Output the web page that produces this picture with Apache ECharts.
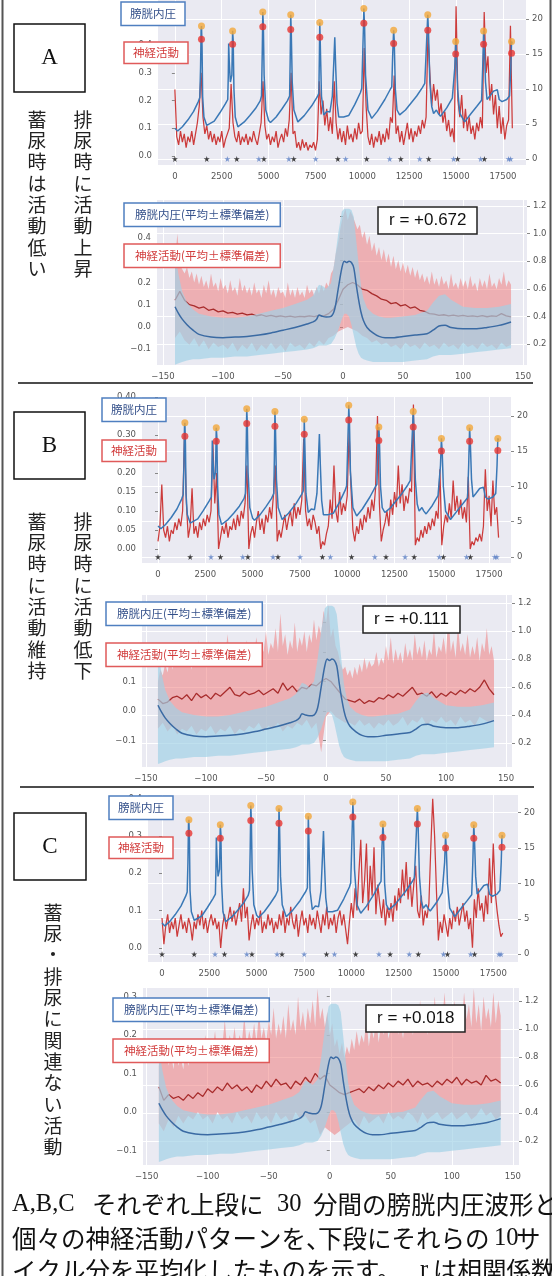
<!DOCTYPE html>
<html><head><meta charset="utf-8">
<script src="https://cdn.jsdelivr.net/npm/echarts@6/dist/echarts.min.js"></script>
<style>html,body{margin:0;padding:0;background:#fff}#c{width:552px;height:1276px}</style>
</head><body><div id="c"></div>
<script>
// ===== 30-min traces (top panels) =====
// bladder pressure (shared by A, B, C) : sample index, value
const pressT = [0,150,400,700,1000,1250,1330,1370,1400,1420,
 1450,1480,1550,1700,1800,2100,2400,2700,2820,2850,
 2870,2900,2960,3000,3040,3080,3110,3150,3220,3360,
 3700,4000,4300,4550,4620,4660,4690,4720,4760,4850,
 5000,5100,5400,5700,6000,6120,6150,6180,6210,6260,
 6350,6560,6900,7300,7600,7680,7710,7730,7760,7820,
 7940,8100,8270,8400,8480,8530,8580,8650,8740,9000,
 9270,9600,9900,9970,10020,10080,10120,10170,10300,10500,
 10800,11200,11500,11570,11620,11670,11700,11760,11850,11990,
 12300,12600,12900,13200,13330,13400,13490,13530,13600,13700,
 13800,13950,14050,14170,14500,14800,14870,14930,14980,15020,
 15080,15200,15460,15800,16100,16360,16420,16470,16510,16570,
 16650,16800,17000,17200,17300,17450,17700,17850,17920,17960,
 18000];
const pressV = [4.4,4.0,4.6,5.6,6.8,8.2,8.8,13,18.5,19.0,
 16,9,6,4.8,4.6,5.4,6.6,7.9,8.5,12,
 16.5,14,11,10.8,12,18.3,17,10,6,4.6,
 5.3,6.2,7.2,8.3,9,15,21.0,19,12,7,
 5.5,5.2,6,7.1,8.3,9,14,20.6,18,11,
 7,5.3,6.2,7.6,8.9,9.4,15,19.5,16,9,
 6.3,6.8,6.7,9,14,17.4,13,8,6.0,6.0,
 6.2,7.8,9.5,10.1,15,21.5,19,12,7,5.8,
 6.8,8.5,10,10.3,15,18.4,17,10,7,6.3,
 7,8,9,10.2,10.8,15,20.6,18,11,7.5,
 6.5,7,6.5,6.1,7.3,8.7,8.9,13,16.8,15,
 10,6.5,5.3,6.5,7.5,8.4,13,18.3,16,11,
 8.5,9,9.7,9.9,8.5,8.2,8.5,9,13,16.8,
 16.5];
const peakT      = [1420,3080,4690,6180,7730,10080,11670,13490,14980,16470,17960];
const peakOrange = [19.0,18.3,21.0,20.6,19.5,21.5,18.4,20.6,16.8,18.3,16.8];
const peakRed    = [17.1,16.4,18.9,18.5,17.4,19.4,16.5,18.4,15.0,16.4,15.1];
const starBlackT = [0,1700,3300,4750,6340,8690,10230,12050,13540,15080,16510];
const starBlueT  = [2800,4480,6080,7510,9110,11460,13060,14870,16310,17800,17910];

// nerve activity, one value every 100 samples (t = 0 .. 18000)
const NERVE_STEP = 100;
const nerveA = [0.24,0.07,0.04,0.09,0.05,0.08,0.03,0.07,0.05,0.09,
 0.04,0.08,0.12,0.18,0.30,0.14,0.08,0.11,0.06,0.09,
 0.05,0.08,0.04,0.07,0.05,0.09,0.03,0.06,0.08,0.10,
 0.26,0.12,0.07,0.05,0.09,0.04,0.07,0.05,0.08,0.04,
 0.07,0.05,0.09,0.06,0.04,0.08,0.12,0.27,0.11,0.06,
 0.08,0.04,0.07,0.05,0.09,0.03,0.06,0.08,0.05,0.10,
 0.07,0.13,0.30,0.08,0.09,0.03,0.05,0.02,0.06,0.03,
 0.05,0.02,0.04,0.03,0.05,0.02,0.06,0.27,0.15,0.20,
 0.11,0.17,0.09,0.14,0.08,0.27,0.12,0.06,0.10,0.05,
 0.09,0.04,0.11,0.06,0.08,0.05,0.10,0.06,0.12,0.08,
 0.09,0.39,0.18,0.07,0.04,0.08,0.03,0.07,0.05,0.09,
 0.04,0.08,0.05,0.10,0.06,0.14,0.12,0.29,0.08,0.11,
 0.05,0.09,0.04,0.08,0.12,0.06,0.10,0.05,0.09,0.07,
 0.11,0.08,0.13,0.10,0.14,0.44,0.30,0.18,0.26,0.20,
 0.24,0.15,0.19,0.12,0.16,0.09,0.13,0.07,0.10,0.05,
 0.54,0.20,0.14,0.22,0.10,0.17,0.09,0.14,0.08,0.11,
 0.06,0.12,0.09,0.14,0.10,0.52,0.30,0.36,0.20,0.26,
 0.15,0.22,0.10,0.18,0.08,0.14,0.06,0.11,0.13,0.47,
 0.10];
const nerveB = [0.02,0.06,0.17,0.05,0.03,0.06,0.02,0.05,0.04,0.07,
 0.05,0.08,0.06,0.10,0.30,0.12,0.03,0.06,0.16,0.04,
 0.06,0.03,0.07,0.05,0.08,0.06,0.09,0.07,0.10,0.28,
 0.12,0.20,0.00,0.03,0.06,0.04,0.07,0.03,0.06,0.05,
 0.08,0.05,0.09,0.06,0.10,0.08,0.12,0.22,0.00,0.04,
 0.06,0.03,0.07,0.10,0.05,0.08,0.04,0.09,0.07,0.11,
 0.08,0.14,0.22,0.02,0.05,0.03,0.06,0.09,0.05,0.08,
 0.10,0.06,0.12,0.08,0.11,0.09,0.13,0.29,0.10,0.06,
 0.08,0.05,0.09,0.07,0.04,0.06,0.00,0.02,0.01,0.04,
 0.06,0.13,0.08,0.22,0.10,0.07,0.15,0.09,0.12,0.10,
 0.14,0.31,0.16,0.05,0.02,0.06,0.04,0.08,0.05,0.09,
 0.07,0.11,0.08,0.13,0.10,0.16,0.35,0.12,0.02,0.05,
 0.07,0.10,0.06,0.13,0.09,0.15,0.11,0.22,0.12,0.17,
 0.10,0.14,0.12,0.16,0.15,0.38,0.01,0.03,0.02,0.05,
 0.03,0.06,0.04,0.07,0.05,0.08,0.06,0.10,0.08,0.21,
 0.01,0.06,0.09,0.07,0.12,0.08,0.18,0.10,0.14,0.09,
 0.13,0.08,0.11,0.07,0.19,0.00,0.02,0.01,0.03,0.02,
 0.04,0.02,0.06,0.21,0.10,0.14,0.06,0.18,0.09,0.11,
 0.03];
const nerveC = [0.08,0.01,0.06,0.09,0.04,0.07,0.05,0.08,0.03,0.06,
 0.09,0.05,0.07,0.04,0.08,0.06,0.02,0.07,0.05,0.09,
 0.06,0.10,0.05,0.08,0.04,0.07,0.09,0.06,0.08,0.05,
 0.07,0.00,0.06,0.09,0.05,0.08,0.11,0.07,0.10,0.06,
 0.09,0.12,0.07,0.16,0.08,0.11,0.02,0.06,0.09,0.05,
 0.08,0.06,0.10,0.04,0.07,0.05,0.09,0.06,0.08,0.04,
 0.07,0.05,0.09,0.06,0.10,0.04,0.08,0.06,0.11,0.07,
 0.05,0.09,0.03,0.07,0.10,0.06,0.08,0.04,0.09,0.06,
 0.08,0.05,0.10,0.07,0.04,0.09,0.06,0.11,0.05,0.08,
 0.06,0.09,0.04,0.08,0.10,0.06,0.09,0.05,0.01,0.07,
 0.12,0.08,0.16,0.10,0.20,0.29,0.12,0.18,0.28,0.10,
 0.22,0.14,0.27,0.09,0.17,0.12,0.08,0.13,0.06,0.11,
 0.08,0.12,0.07,0.14,0.10,0.16,0.12,0.21,0.14,0.23,
 0.13,0.19,0.11,0.17,0.22,0.10,0.08,0.14,0.06,0.10,
 0.08,0.12,0.27,0.40,0.30,0.15,0.02,0.07,0.04,0.09,
 0.06,0.03,0.08,0.05,0.10,0.07,0.11,0.06,0.09,0.12,
 0.07,0.10,0.05,0.08,0.00,0.13,0.08,0.16,0.10,0.12,
 0.07,0.14,0.09,0.24,0.12,0.28,0.15,0.10,0.06,0.03,
 0.04];

// ===== 10-cycle averages (bottom panels) =====
const avgPressX  = [-140,-137,-134,-130,-125,-120,-110,-100,-90,-80,
 -70,-60,-50,-40,-30,-25,-22,-20,-17,-14,
 -10,-7,-4,-1,1,3,5,7,9,11,
 13,15,17,20,25,30,35,40,50,60,
 70,75,80,85,90,100,110,120,130,140];
const avgPressMean = [0.47,0.42,0.38,0.34,0.30,0.27,0.25,0.245,0.25,0.255,
 0.265,0.28,0.30,0.32,0.345,0.36,0.38,0.41,0.40,0.395,
 0.40,0.45,0.60,0.75,0.80,0.79,0.80,0.79,0.75,0.63,
 0.52,0.43,0.37,0.32,0.28,0.255,0.245,0.245,0.255,0.265,
 0.275,0.30,0.33,0.335,0.32,0.31,0.31,0.32,0.335,0.36];
const avgPressLo = [0.05,0.06,0.07,0.08,0.09,0.09,0.10,0.10,0.11,0.11,
 0.12,0.13,0.14,0.15,0.16,0.17,0.18,0.19,0.19,0.19,
 0.20,0.24,0.30,0.38,0.42,0.42,0.40,0.34,0.26,0.18,
 0.13,0.10,0.09,0.08,0.07,0.07,0.07,0.07,0.07,0.08,
 0.09,0.11,0.12,0.12,0.12,0.13,0.14,0.15,0.16,0.17];
const avgPressHi = [0.85,0.70,0.58,0.50,0.45,0.42,0.40,0.39,0.39,0.40,
 0.42,0.44,0.46,0.49,0.52,0.55,0.60,0.63,0.62,0.60,
 0.64,0.80,1.00,1.16,1.18,1.18,1.18,1.17,1.12,0.95,
 0.78,0.62,0.53,0.46,0.42,0.40,0.39,0.39,0.40,0.41,
 0.44,0.50,0.55,0.56,0.52,0.47,0.46,0.46,0.47,0.49];

// nerve averages: mean & lower every 4 s (-140..140), upper every 2 s (-140..140)
const avgNerveMeanA = [0.12,0.16,0.12,0.10,0.095,0.085,0.09,0.075,0.08,0.068,
 0.072,0.062,0.066,0.058,0.062,0.054,0.058,0.05,0.055,0.048,
 0.052,0.046,0.05,0.045,0.049,0.044,0.048,0.046,0.05,0.047,
 0.052,0.05,0.06,0.08,0.12,0.17,0.19,0.2,0.19,0.17,
 0.165,0.15,0.14,0.125,0.12,0.105,0.11,0.095,0.1,0.085,
 0.09,0.075,0.07,0.06,0.058,0.052,0.055,0.05,0.053,0.049,
 0.052,0.048,0.05,0.047,0.051,0.046,0.05,0.048,0.06,0.05,
 0.045];
const avgNerveHiA = [0.30,0.42,0.28,0.26,0.24,0.27,0.22,0.25,0.20,0.24,
 0.19,0.23,0.18,0.21,0.17,0.24,0.18,0.20,0.16,0.22,
 0.17,0.19,0.15,0.21,0.16,0.18,0.14,0.22,0.16,0.19,
 0.15,0.18,0.14,0.20,0.15,0.17,0.13,0.19,0.15,0.21,
 0.14,0.17,0.13,0.18,0.15,0.16,0.13,0.20,0.14,0.17,
 0.13,0.18,0.14,0.16,0.13,0.19,0.15,0.17,0.14,0.18,
 0.15,0.19,0.16,0.20,0.18,0.24,0.26,0.33,0.38,0.45,
 0.50,0.53,0.48,0.52,0.50,0.47,0.44,0.46,0.40,0.43,
 0.37,0.41,0.34,0.38,0.32,0.36,0.30,0.35,0.29,0.33,
 0.27,0.32,0.26,0.30,0.25,0.29,0.24,0.28,0.23,0.27,
 0.22,0.26,0.21,0.24,0.20,0.23,0.19,0.25,0.19,0.22,
 0.18,0.23,0.19,0.21,0.17,0.24,0.18,0.20,0.17,0.22,
 0.18,0.21,0.17,0.23,0.18,0.20,0.16,0.22,0.18,0.21,
 0.17,0.24,0.18,0.20,0.17,0.22,0.19,0.25,0.18,0.21,
 0.19];
const avgNerveLoA = [-0.05,-0.02,-0.06,-0.08,-0.05,-0.09,-0.06,-0.10,-0.07,-0.09,
 -0.08,-0.10,-0.07,-0.11,-0.08,-0.10,-0.07,-0.11,-0.08,-0.10,
 -0.07,-0.10,-0.08,-0.11,-0.07,-0.09,-0.08,-0.10,-0.07,-0.09,
 -0.06,-0.08,-0.05,-0.04,-0.02,-0.01,0.00,-0.01,-0.02,-0.04,
 -0.05,-0.07,-0.06,-0.08,-0.07,-0.09,-0.08,-0.10,-0.07,-0.09,
 -0.08,-0.10,-0.07,-0.09,-0.08,-0.10,-0.07,-0.09,-0.08,-0.10,
 -0.07,-0.09,-0.08,-0.10,-0.07,-0.09,-0.08,-0.10,-0.07,-0.09,
 -0.08];

const avgNerveMeanB = [0.04,0.025,0.03,0.045,0.05,0.04,0.055,0.035,0.06,0.045,
 0.055,0.04,0.06,0.05,0.065,0.08,0.055,0.05,0.065,0.055,
 0.06,0.07,0.055,0.065,0.075,0.06,0.095,0.07,0.085,0.065,
 0.08,0.075,0.09,0.085,0.10,0.11,0.10,0.08,0.06,0.04,
 0.035,0.03,0.04,0.025,0.035,0.03,0.045,0.04,0.055,0.045,
 0.06,0.05,0.065,0.08,0.055,0.06,0.05,0.065,0.045,0.06,
 0.05,0.065,0.055,0.07,0.06,0.075,0.065,0.08,0.105,0.075,
 0.055];
const avgNerveHiB = [0.10,0.14,0.12,0.16,0.13,0.18,0.14,0.20,0.15,0.19,
 0.16,0.22,0.15,0.18,0.14,0.21,0.16,0.24,0.15,0.19,
 0.16,0.21,0.15,0.19,0.17,0.23,0.16,0.20,0.18,0.26,
 0.17,0.21,0.16,0.22,0.18,0.20,0.17,0.24,0.18,0.21,
 0.19,0.25,0.18,0.22,0.20,0.27,0.19,0.23,0.21,0.28,
 0.20,0.33,0.22,0.26,0.19,0.24,0.21,0.30,0.20,0.25,
 0.22,0.27,0.20,0.26,0.23,0.31,0.24,0.29,0.26,0.34,
 0.30,0.36,0.25,0.28,0.22,0.20,0.16,0.14,0.15,0.12,
 0.14,0.11,0.15,0.12,0.16,0.13,0.18,0.14,0.17,0.15,
 0.16,0.20,0.15,0.18,0.16,0.22,0.17,0.25,0.16,0.21,
 0.17,0.20,0.16,0.23,0.18,0.21,0.17,0.26,0.19,0.22,
 0.18,0.24,0.17,0.21,0.19,0.27,0.18,0.22,0.20,0.25,
 0.19,0.33,0.20,0.24,0.18,0.29,0.20,0.23,0.19,0.26,
 0.18,0.22,0.19,0.25,0.17,0.23,0.20,0.28,0.19,0.22,
 0.17];
const avgNerveLoB = [-0.06,-0.04,-0.07,-0.05,-0.08,-0.06,-0.07,-0.05,-0.08,-0.06,
 -0.07,-0.05,-0.08,-0.06,-0.07,-0.05,-0.08,-0.06,-0.07,-0.05,
 -0.06,-0.04,-0.07,-0.05,-0.06,-0.04,-0.07,-0.05,-0.06,-0.04,
 -0.05,-0.03,-0.06,-0.04,-0.14,-0.02,0.00,-0.02,-0.03,-0.04,
 -0.04,-0.05,-0.03,-0.05,-0.04,-0.06,-0.04,-0.05,-0.03,-0.05,
 -0.04,-0.02,-0.05,-0.03,-0.04,-0.02,-0.05,-0.03,-0.04,-0.02,
 -0.04,-0.03,-0.05,-0.02,-0.04,-0.03,-0.05,-0.02,-0.03,-0.04,
 -0.03];

const avgNerveMeanC = [0.065,0.03,0.045,0.035,0.04,0.03,0.045,0.035,0.05,0.04,
 0.06,0.05,0.065,0.055,0.075,0.06,0.07,0.055,0.065,0.05,
 0.07,0.06,0.08,0.065,0.085,0.07,0.075,0.06,0.08,0.07,
 0.09,0.075,0.1,0.085,0.095,0.07,0.06,0.05,0.045,0.05,
 0.055,0.06,0.05,0.065,0.055,0.07,0.06,0.075,0.065,0.08,
 0.07,0.085,0.065,0.08,0.07,0.075,0.065,0.08,0.07,0.085,
 0.075,0.09,0.07,0.085,0.075,0.08,0.07,0.095,0.08,0.085,
 0.075];
const avgNerveHiC = [0.12,0.16,0.13,0.18,0.12,0.15,0.11,0.17,0.12,0.14,
 0.11,0.16,0.12,0.14,0.13,0.19,0.14,0.16,0.15,0.20,
 0.15,0.18,0.16,0.21,0.15,0.19,0.17,0.24,0.16,0.20,
 0.17,0.22,0.16,0.20,0.18,0.25,0.17,0.21,0.18,0.23,
 0.18,0.26,0.19,0.22,0.18,0.24,0.20,0.27,0.19,0.23,
 0.20,0.25,0.19,0.28,0.21,0.24,0.20,0.30,0.22,0.26,
 0.21,0.27,0.23,0.29,0.22,0.32,0.24,0.27,0.22,0.26,
 0.20,0.23,0.17,0.19,0.15,0.18,0.14,0.17,0.15,0.19,
 0.16,0.21,0.17,0.20,0.18,0.24,0.17,0.22,0.19,0.25,
 0.18,0.23,0.20,0.26,0.19,0.22,0.21,0.28,0.20,0.24,
 0.19,0.25,0.21,0.27,0.20,0.23,0.22,0.29,0.21,0.25,
 0.20,0.27,0.22,0.30,0.21,0.26,0.23,0.31,0.22,0.28,
 0.21,0.29,0.23,0.27,0.22,0.31,0.24,0.28,0.22,0.32,
 0.23,0.28,0.21,0.30,0.24,0.27,0.22,0.31,0.23,0.29,
 0.25];
const avgNerveLoC = [-0.03,-0.05,-0.02,-0.04,-0.01,-0.03,-0.01,-0.02,0.00,-0.02,
 -0.01,-0.03,0.00,-0.02,-0.01,-0.03,0.00,-0.02,-0.01,-0.03,
 0.00,-0.02,-0.01,-0.03,0.00,-0.02,-0.01,-0.03,0.00,-0.02,
 -0.01,-0.03,-0.02,-0.06,-0.04,-0.05,-0.06,-0.05,-0.04,-0.03,
 -0.02,-0.04,-0.01,-0.03,-0.02,-0.01,-0.03,0.00,-0.02,-0.01,
 -0.02,0.00,-0.01,-0.03,0.00,-0.02,-0.01,0.00,-0.02,-0.01,
 0.00,-0.02,-0.01,0.00,-0.02,-0.01,0.01,-0.01,0.00,-0.02,
 -0.01];

const correlations = ['+0.672', '+0.111', '+0.018'];

// ===== tick labels =====
const xTopTicks = [0,2500,5000,7500,10000,12500,15000,17500];
const xBotTicks = [-150,-100,-50,0,50,100,150];
const yPressTicks = [0,5,10,15,20];
const yNormTicks = [0.2,0.4,0.6,0.8,1.0,1.2];
const yNerveTicks = {A:[0,0.1,0.2,0.3,0.4,0.5], B:[0,0.05,0.1,0.15,0.2,0.25,0.3,0.35,0.4], C:[0,0.1,0.2,0.3,0.4]};
const yAvgTicks = {A:[-0.1,0,0.1,0.2,0.3,0.4,0.5], B:[-0.1,0,0.1,0.2,0.3], C:[-0.1,0,0.1,0.2,0.3]};

// ===== layout (pixels / axis ranges) =====
const L = {
  A:{top:{l:158,t:0,w:368,h:165,x:[-900,18730],yl:[-0.0325,0.563],yr:[-0.857,22.71],dec:1},
     bot:{l:157,t:200,w:370,h:165,x:[-155,153.3],yl:[-0.171,0.571],yr:[0.048,1.243]},
     lg:[[121,2],[124,42],[124,203],[124,244]], r:[378,207]},
  B:{top:{l:142,t:397,w:369,h:166,x:[-846,18657],yl:[-0.0368,0.40],yr:[-0.85,22.66],dec:2},
     bot:{l:142,t:595,w:370,h:172,x:[-153.3,155],yl:[-0.19,0.393],yr:[0.029,1.257]},
     lg:[[102,398],[102,440],[106,602],[106,643]], r:[363,606]},
  C:{top:{l:148,t:795,w:370,h:167,x:[-740,18806],yl:[-0.038,0.41],yr:[-1.1,22.5],dec:1},
     bot:{l:143,t:988,w:376,h:177,x:[-153,155],yl:[-0.138,0.322],yr:[0.029,1.293]},
     lg:[[109,796],[109,837],[113,998],[113,1039]], r:[366,1005]}
};

const BLUE='#3a78b6', RED='#cc3b3b';
const lblStyle = {color:'#555', fontSize:8.5, fontFamily:'DejaVu Sans'};
const fmt = d => v => (v < 0 ? '\u2212' : '') + Math.abs(v).toFixed(d);
const zip = (xs, ys) => xs.map((x, i) => [x, ys[i]]);

const grids=[], xAxes=[], yAxes=[], series=[], legends=[], titles=[];

function addGrid(g){
  grids.push({left:g.l, top:g.t, width:g.w, height:g.h, show:true, backgroundColor:'#EAEAF2', borderWidth:0});
  return grids.length-1;
}
function addX(gi, range, ticks, dec){
  xAxes.push({type:'value', gridIndex:gi, min:range[0], max:range[1],
    axisLine:{show:false}, axisTick:{show:false, customValues:ticks},
    axisLabel:Object.assign({customValues:ticks, margin:7, formatter:fmt(dec)}, lblStyle),
    splitLine:{show:true, lineStyle:{color:'#fff', width:1}}});
  return xAxes.length-1;
}
function addY(gi, range, ticks, dec, pos, grid){
  yAxes.push({type:'value', gridIndex:gi, position:pos, min:range[0], max:range[1],
    axisLine:{show:false},
    axisTick:{show:true, length:3, lineStyle:{color:'#888'}, customValues:ticks},
    axisLabel:Object.assign({customValues:ticks, margin:6, formatter:fmt(dec)}, lblStyle),
    splitLine:{show:grid, lineStyle:{color:'#fff', width:1}}});
  return yAxes.length-1;
}
function band(xi, yi, pts, fill, z){
  return {type:'custom', xAxisIndex:xi, yAxisIndex:yi, silent:true, z:z, data:pts,
    renderItem:function(params, api){
      if (params.dataIndex !== 0) return null;
      const cs = params.coordSys;
      return {type:'polygon', shape:{points:pts.map(p => api.coord(p))},
        style:{fill:fill}, clipPath:{type:'rect', shape:{x:cs.x, y:cs.y, width:cs.width, height:cs.height}}};
    }};
}
function legendBox(name, pos, isBlue, pad){
  legends.push({data:[name], left:pos[0], top:pos[1], selectedMode:false, icon:'rect',
    itemWidth:0, itemHeight:0, itemGap:0, padding:pad, backgroundColor:'#fff',
    borderColor:isBlue ? '#4f7fc0' : '#e05a5a', borderWidth:1.5,
    textStyle:{color:isBlue ? '#34508a' : '#d23c3c', fontSize:11.5, fontFamily:'Noto Sans CJK JP'}});
}

const nerve = {A:nerveA, B:nerveB, C:nerveC};
const nMean = {A:avgNerveMeanA, B:avgNerveMeanB, C:avgNerveMeanC};
const nHi = {A:avgNerveHiA, B:avgNerveHiB, C:avgNerveHiC};
const nLo = {A:avgNerveLoA, B:avgNerveLoB, C:avgNerveLoC};
const nerveT = nerveA.map((_, i) => i * NERVE_STEP);
const avgX4 = avgNerveMeanA.map((_, i) => -140 + 4 * i);
const avgX2 = avgNerveHiA.map((_, i) => -140 + 2 * i);
const starPath = 'path://M50,0 L61,35 L98,35 L68,57 L79,91 L50,70 L21,91 L32,57 L2,35 L39,35 Z';

['A','B','C'].forEach((k, idx) => {
  const P = L[k];
  // ---- top: 30-minute trace ----
  let g = addGrid(P.top);
  let xi = addX(g, P.top.x, xTopTicks, 0);
  let yl = addY(g, P.top.yl, yNerveTicks[k], P.top.dec, 'left', false);
  let yr = addY(g, P.top.yr, yPressTicks, 0, 'right', true);
  series.push({type:'line', name:'神経活動', xAxisIndex:xi, yAxisIndex:yl, data:zip(nerveT, nerve[k]),
    symbol:'none', lineStyle:{color:RED, width:1.25}, itemStyle:{color:RED}, z:2, silent:true});
  series.push({type:'line', name:'膀胱内圧', xAxisIndex:xi, yAxisIndex:yr, data:zip(pressT, pressV),
    symbol:'none', lineStyle:{color:BLUE, width:1.5}, itemStyle:{color:BLUE}, z:3, silent:true});
  series.push({type:'scatter', name:'peak', xAxisIndex:xi, yAxisIndex:yr, data:zip(peakT, peakOrange),
    symbolSize:7, itemStyle:{color:'#f3a83a'}, z:5, silent:true});
  series.push({type:'scatter', name:'peakRed', xAxisIndex:xi, yAxisIndex:yr, data:zip(peakT, peakRed),
    symbolSize:7, itemStyle:{color:'#e8352f'}, z:5, silent:true});
  series.push({type:'scatter', name:'starK', xAxisIndex:xi, yAxisIndex:yr, data:starBlackT.map(t => [t, 0]),
    symbol:starPath, symbolSize:6, itemStyle:{color:'#111'}, z:5, silent:true});
  series.push({type:'scatter', name:'starB', xAxisIndex:xi, yAxisIndex:yr, data:starBlueT.map(t => [t, 0]),
    symbol:starPath, symbolSize:6, itemStyle:{color:'#5b7fc4'}, z:5, silent:true});
  legendBox('膀胱内圧', P.lg[0], true, [6,9,6,4]);
  legendBox('神経活動', P.lg[1], false, [5,9,5,4]);

  // ---- bottom: 10-cycle average ----
  g = addGrid(P.bot);
  xi = addX(g, P.bot.x, xBotTicks, 0);
  yl = addY(g, P.bot.yl, yAvgTicks[k], 1, 'left', false);
  yr = addY(g, P.bot.yr, yNormTicks, 1, 'right', true);
  const redPts = zip(avgX2, nHi[k]).concat(zip(avgX4, nLo[k]).reverse());
  const bluePts = zip(avgPressX, avgPressHi).concat(zip(avgPressX, avgPressLo).reverse());
  series.push(band(xi, yl, redPts, 'rgba(240,115,115,0.5)', 1));
  series.push({type:'line', name:'神経活動(平均±標準偏差)', xAxisIndex:xi, yAxisIndex:yl, data:zip(avgX4, nMean[k]),
    symbol:'none', lineStyle:{color:'#a82c2c', width:1.3}, itemStyle:{color:'#a82c2c'}, z:2, silent:true});
  series.push(band(xi, yr, bluePts, 'rgba(160,210,230,0.68)', 3));
  series.push({type:'line', name:'膀胱内圧(平均±標準偏差)', xAxisIndex:xi, yAxisIndex:yr, data:zip(avgPressX, avgPressMean),
    symbol:'none', smooth:0.3, lineStyle:{color:'#3a6aa3', width:1.5}, itemStyle:{color:'#3a6aa3'}, z:4, silent:true});
  legendBox('膀胱内圧(平均±標準偏差)', P.lg[2], true, [6,11,6,6]);
  legendBox('神経活動(平均±標準偏差)', P.lg[3], false, [6,11,6,6]);
  titles.push({text:'r = ' + correlations[idx], left:P.r[0], top:P.r[1], padding:[5,11,5,11],
    backgroundColor:'#fff', borderColor:'#222', borderWidth:1.5,
    textStyle:{fontSize:17, fontWeight:'normal', color:'#111', fontFamily:'Liberation Sans'}});
});

// ===== decorations: frame, panel labels, notes, caption =====
const JP = '"Noto Sans CJK JP"';
function vtext(x, y, s){
  return {type:'text', x:x, y:y, style:{text:s.split('').join('\n'), font:'19px ' + JP, fill:'#222',
    lineHeight:21.3, align:'center', textAlign:'center', verticalAlign:'top', textVerticalAlign:'top'}};
}
function box(x, y, w, h, letter){
  return [{type:'rect', shape:{x:x, y:y, width:w, height:h}, style:{fill:'#fff', stroke:'#111', lineWidth:1.5}},
          {type:'text', x:x + w/2, y:y + h/2, style:{text:letter, font:'23px "Liberation Serif"', fill:'#111',
            align:'center', textAlign:'center', verticalAlign:'middle', textVerticalAlign:'middle'}}];
}
function ctext(x, y, s, serif){
  return {type:'text', x:x, y:y, style:{text:s, font:'24.5px ' + (serif ? '"Liberation Serif", ' : '') + JP,
    fill:'#111', verticalAlign:'middle', textVerticalAlign:'middle'}};
}
const graphic = [
  {type:'line', shape:{x1:2.5, y1:0, x2:2.5, y2:1276}, style:{stroke:'#555', lineWidth:2}},
  {type:'line', shape:{x1:550.5, y1:0, x2:550.5, y2:1276}, style:{stroke:'#555', lineWidth:2}},
  {type:'line', shape:{x1:18, y1:383, x2:533, y2:383}, style:{stroke:'#111', lineWidth:1.5}},
  {type:'line', shape:{x1:20, y1:787, x2:534, y2:787}, style:{stroke:'#111', lineWidth:1.5}},
  ...box(14, 24, 71, 68, 'A'), ...box(14, 412, 71, 67, 'B'), ...box(14, 813, 72, 67, 'C'),
  vtext(37, 109, '蓄尿時は活動低い'), vtext(83, 109, '排尿時に活動上昇'),
  vtext(37, 511, '蓄尿時に活動維持'), vtext(83, 511, '排尿時に活動低下'),
  vtext(53, 902, '蓄尿・排尿に関連ない活動'),
  ctext(12, 1205, 'A,B,C', true), ctext(92, 1205, 'それぞれ上段に'), ctext(277, 1205, '30', true),
  ctext(313, 1205, '分間の膀胱内圧波形と'),
  ctext(12, 1239, '個々の神経活動パターンを、'), ctext(318, 1239, '下段にそれらの'),
  ctext(494, 1239, '10', true), ctext(516, 1239, 'サ'),
  ctext(12, 1271, 'イクル分を平均化したものを示す。'), ctext(420, 1271, 'r', true), ctext(433, 1271, 'は相関係数。')
];

const chart = echarts.init(document.getElementById('c'), null, {renderer:'canvas'});
chart.setOption({animation:false, grid:grids, xAxis:xAxes, yAxis:yAxes, series:series,
  legend:legends, title:titles, graphic:{elements:graphic}});
</script></body></html>
